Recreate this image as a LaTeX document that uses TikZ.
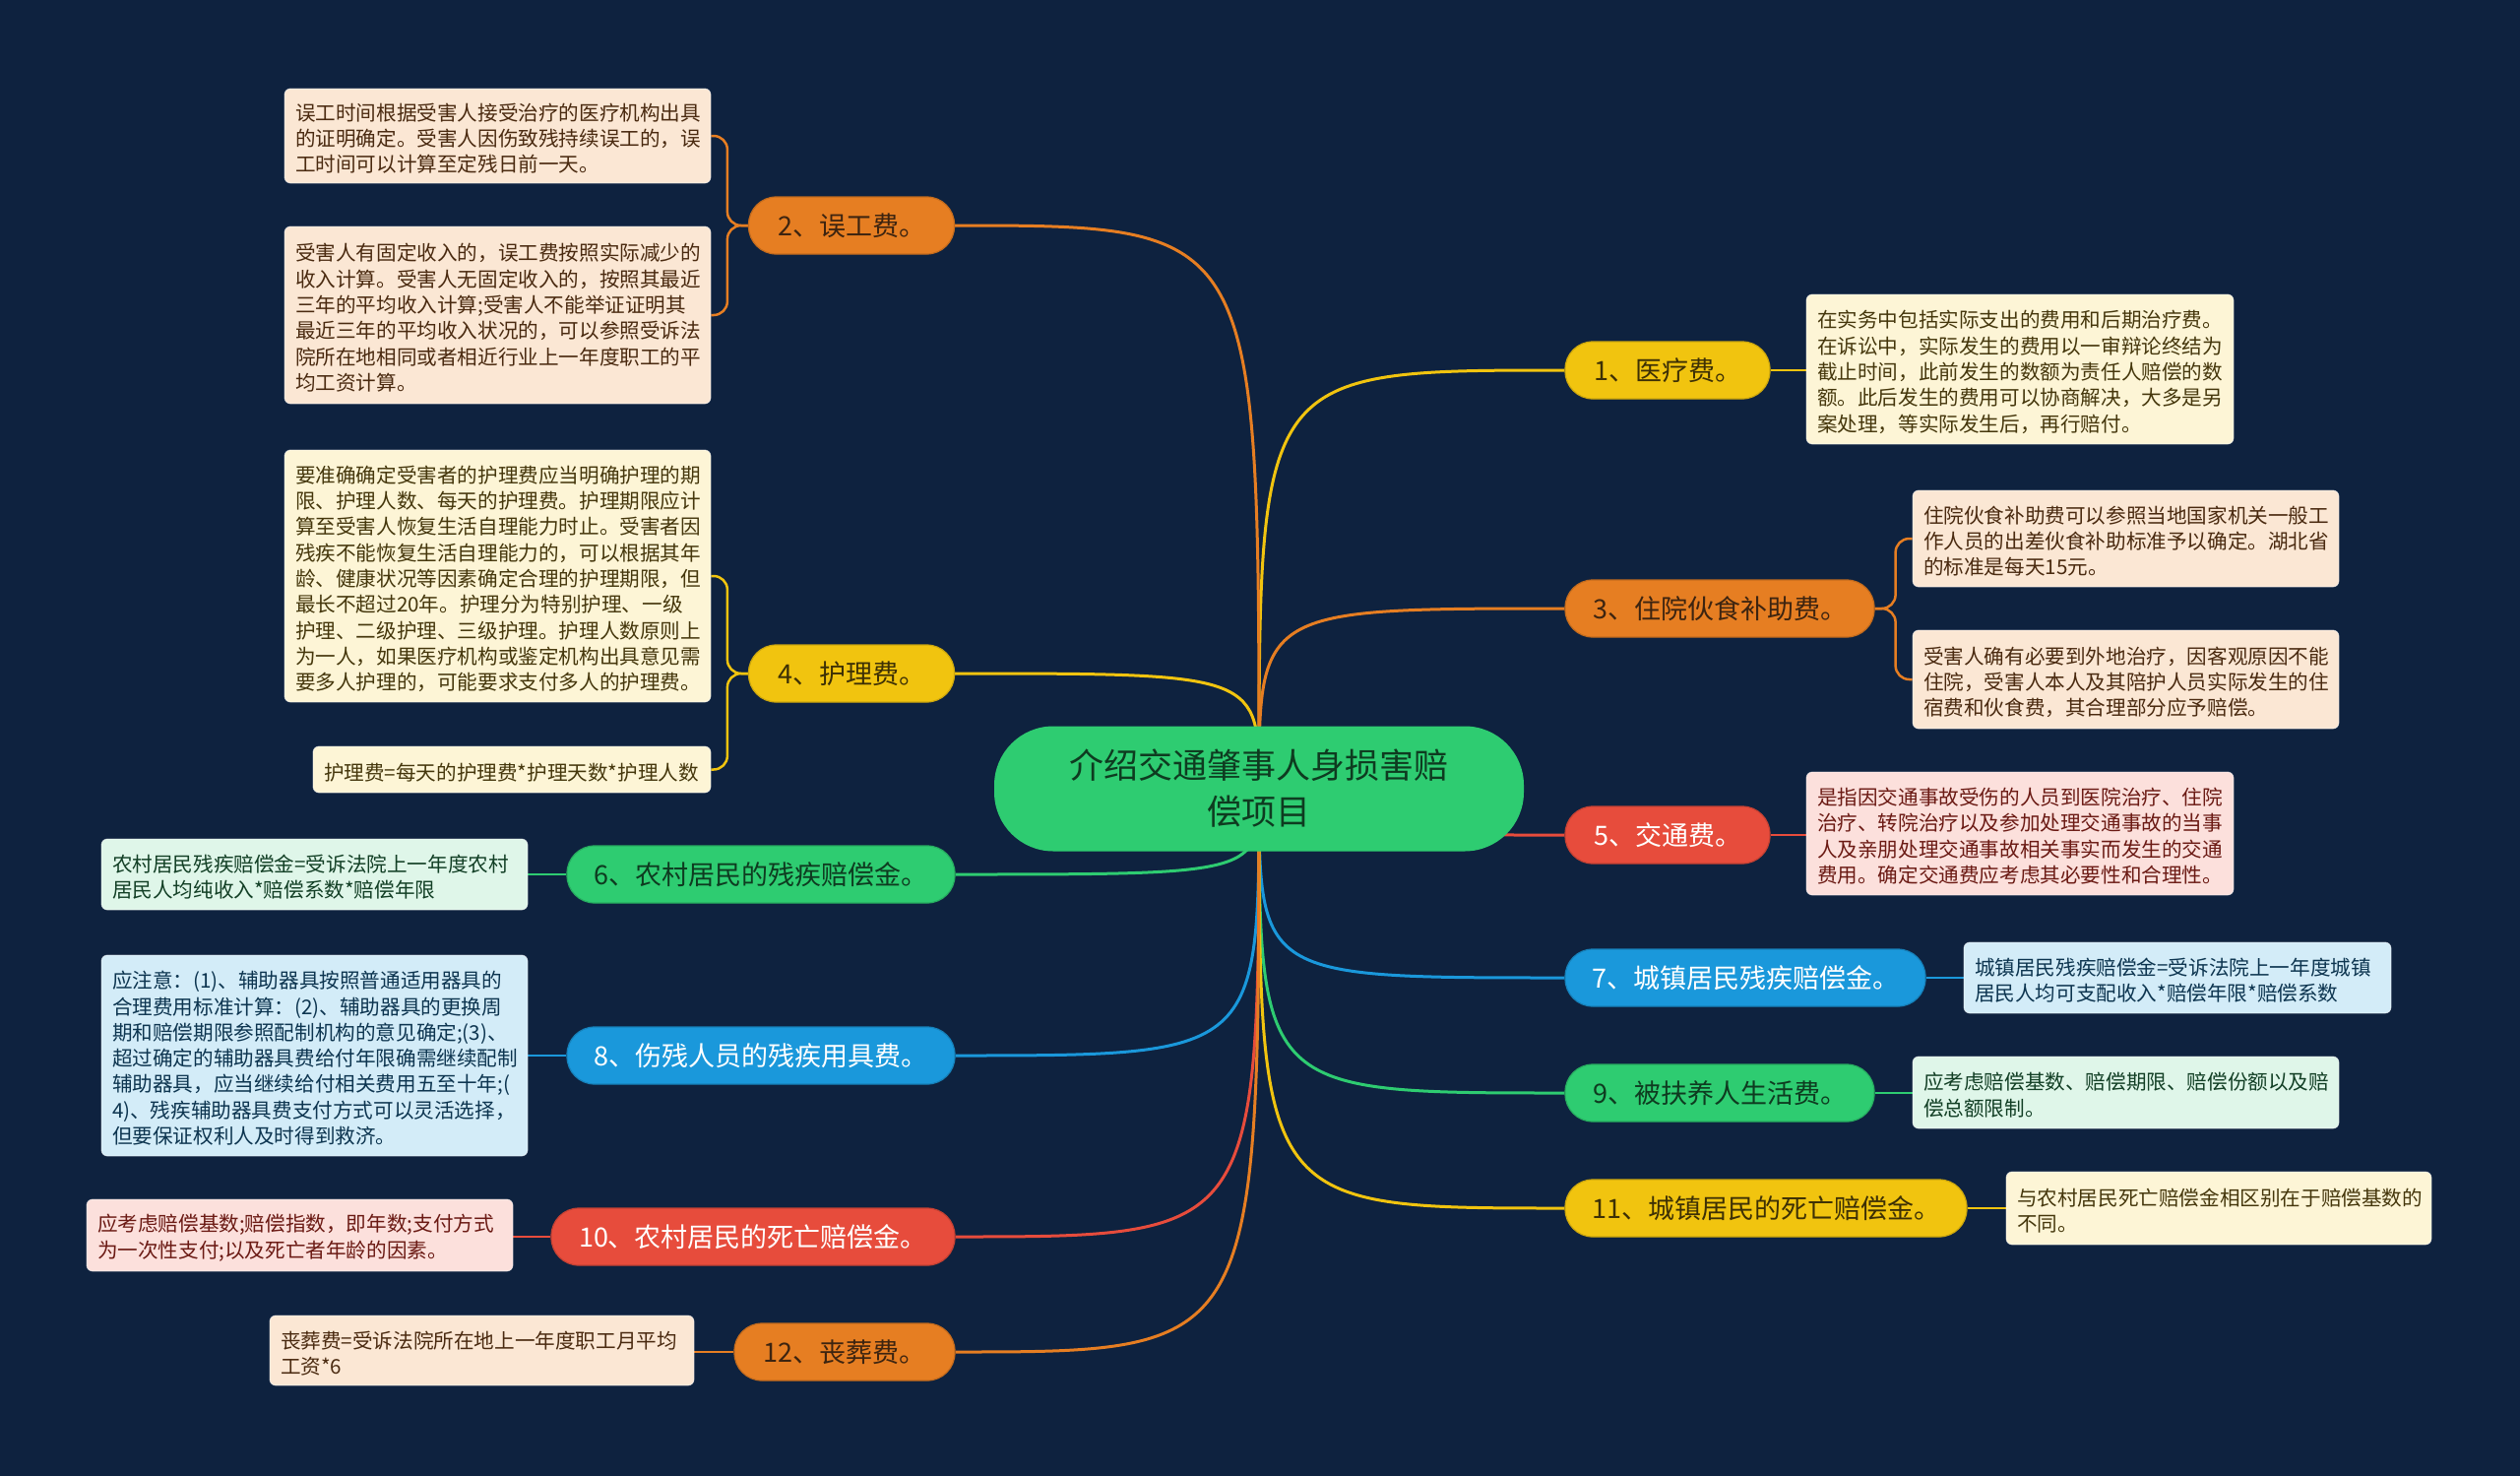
\documentclass[tikz,border=0pt]{standalone}
\usepackage{fontspec}
\setmainfont{Noto Sans CJK SC}
\usetikzlibrary{calc}
\definecolor{bg}{HTML}{0E223F}
\definecolor{cOrange}{HTML}{E67E22}
\definecolor{cYellow}{HTML}{F1C40F}
\definecolor{cGreen}{HTML}{2ECC71}
\definecolor{cBlue}{HTML}{1A98DB}
\definecolor{cRed}{HTML}{E74C3C}
\definecolor{tOrange}{HTML}{3D2410}
\definecolor{tYellow}{HTML}{3D3005}
\definecolor{tGreen}{HTML}{0E3B20}
\definecolor{lOrange}{HTML}{FBE7D4}
\definecolor{lYellow}{HTML}{FDF5D6}
\definecolor{lGreen}{HTML}{DFF6E9}
\definecolor{lBlue}{HTML}{D3ECF8}
\definecolor{lRed}{HTML}{FCE0DC}
\definecolor{ltOrange}{HTML}{4A2A10}
\definecolor{ltYellow}{HTML}{45370C}
\definecolor{ltGreen}{HTML}{123F25}
\definecolor{ltBlue}{HTML}{0D3550}
\definecolor{ltRed}{HTML}{6B1A14}
\newcommand\leaffont{\fontsize{20.6}{26.3}\selectfont}
\newcommand\branchfont{\fontsize{27}{32}\selectfont}
\newcommand\rootfont{\fontsize{35}{47}\selectfont}
\pgfdeclarelayer{bgfill}
\pgfdeclarelayer{lines}
\pgfsetlayers{bgfill,lines,main}
\begin{document}
\begin{tikzpicture}[x=1pt,y=-1pt,
  conn/.style={line width=3pt},
  lconn/.style={line width=2.5pt, rounded corners=14pt},
  branch/.style={rounded corners=28pt, minimum height=58pt, inner sep=0pt, font=\branchfont, line width=1.2pt},
  leaf/.style={rounded corners=6pt, inner xsep=11pt, inner ysep=0pt, text width=411pt, align=left, font=\leaffont, draw=white, draw opacity=0.55, line width=0.8pt, execute at begin node={\rule{0pt}{23pt}}},
  rootnode/.style={rounded corners=60pt, minimum width=538pt, minimum height=127pt, inner sep=0pt, align=center, font=\rootfont, fill=cGreen, text=tGreen}
]
\begin{pgfonlayer}{bgfill}
\fill[bg] (0,0) rectangle (2560,1499);
\end{pgfonlayer}
\useasboundingbox (0,0) rectangle (2560,1499);

% root
\node[rootnode] (C) at (1279,801) {介绍交通肇事人身损害赔\\偿项目};

% branches
\node[branch, fill=cYellow, draw=cYellow!85!black, text=tYellow, minimum width=208pt] (B1) at (1694,376) {1、医疗费。};
\node[branch, fill=cOrange, draw=cOrange!85!black, text=tOrange, minimum width=209pt] (B2) at (865,229) {2、误工费。};
\node[branch, fill=cOrange, draw=cOrange!85!black, text=tOrange, minimum width=314pt] (B3) at (1747,618) {3、住院伙食补助费。};
\node[branch, fill=cYellow, draw=cYellow!85!black, text=tYellow, minimum width=209pt] (B4) at (865,684) {4、护理费。};
\node[branch, fill=cRed, draw=cRed!85!black, text=white, minimum width=208pt] (B5) at (1694,848) {5、交通费。};
\node[branch, fill=cGreen, draw=cGreen!85!black, text=tGreen, minimum width=394pt] (B6) at (773,888) {6、农村居民的残疾赔偿金。};
\node[branch, fill=cBlue, draw=cBlue!85!black, text=white, minimum width=366pt] (B7) at (1773,993) {7、城镇居民残疾赔偿金。};
\node[branch, fill=cBlue, draw=cBlue!85!black, text=white, minimum width=394pt] (B8) at (773,1072) {8、伤残人员的残疾用具费。};
\node[branch, fill=cGreen, draw=cGreen!85!black, text=tGreen, minimum width=314pt] (B9) at (1747,1110) {9、被扶养人生活费。};
\node[branch, fill=cRed, draw=cRed!85!black, text=white, minimum width=410pt] (B10) at (765,1256) {10、农村居民的死亡赔偿金。};
\node[branch, fill=cYellow, draw=cYellow!85!black, text=tYellow, minimum width=408pt] (B11) at (1794,1227) {11、城镇居民的死亡赔偿金。};
\node[branch, fill=cOrange, draw=cOrange!85!black, text=tOrange, minimum width=224pt] (B12) at (858,1373) {12、丧葬费。};

% leaves left
\node[leaf, fill=lOrange, text=ltOrange, minimum height=96pt] (L2a) at (505.5,138) {误工时间根据受害人接受治疗的医疗机构出具\\的证明确定。受害人因伤致残持续误工的，误\\工时间可以计算至定残日前一天。};
\node[leaf, fill=lOrange, text=ltOrange, minimum height=180pt] (L2b) at (505.5,320) {受害人有固定收入的，误工费按照实际减少的\\收入计算。受害人无固定收入的，按照其最近\\三年的平均收入计算;受害人不能举证证明其\\最近三年的平均收入状况的，可以参照受诉法\\院所在地相同或者相近行业上一年度职工的平\\均工资计算。};
\node[leaf, fill=lYellow, text=ltYellow, minimum height=256pt] (L4a) at (505.5,585) {要准确确定受害者的护理费应当明确护理的期\\限、护理人数、每天的护理费。护理期限应计\\算至受害人恢复生活自理能力时止。受害者因\\残疾不能恢复生活自理能力的，可以根据其年\\龄、健康状况等因素确定合理的护理期限，但\\最长不超过20年。护理分为特别护理、一级\\护理、二级护理、三级护理。护理人数原则上\\为一人，如果医疗机构或鉴定机构出具意见需\\要多人护理的，可能要求支付多人的护理费。};
\node[leaf, fill=lYellow, text=ltYellow, minimum height=47pt, text width=382pt] (L4b) at (520,781.5) {护理费=每天的护理费*护理天数*护理人数};
\node[leaf, fill=lGreen, text=ltGreen, minimum height=72pt] (L6) at (319.5,888) {农村居民残疾赔偿金=受诉法院上一年度农村\\居民人均纯收入*赔偿系数*赔偿年限};
\node[leaf, fill=lBlue, text=ltBlue, minimum height=204pt] (L8) at (319.5,1072) {应注意：(1)、辅助器具按照普通适用器具的\\合理费用标准计算：(2)、辅助器具的更换周\\期和赔偿期限参照配制机构的意见确定;(3)、\\超过确定的辅助器具费给付年限确需继续配制\\辅助器具，应当继续给付相关费用五至十年;(\\4)、残疾辅助器具费支付方式可以灵活选择，\\但要保证权利人及时得到救济。};
\node[leaf, fill=lRed, text=ltRed, minimum height=73pt] (L10) at (304.5,1254.5) {应考虑赔偿基数;赔偿指数，即年数;支付方式\\为一次性支付;以及死亡者年龄的因素。};
\node[leaf, fill=lOrange, text=ltOrange, minimum height=71pt, text width=409pt] (L12) at (489.5,1371.5) {丧葬费=受诉法院所在地上一年度职工月平均\\工资*6};

% leaves right
\node[leaf, fill=lYellow, text=ltYellow, minimum height=152pt, text width=412pt] (R1) at (2052,375) {在实务中包括实际支出的费用和后期治疗费。\\在诉讼中，实际发生的费用以一审辩论终结为\\截止时间，此前发生的数额为责任人赔偿的数\\额。此后发生的费用可以协商解决，大多是另\\案处理，等实际发生后，再行赔付。};
\node[leaf, fill=lOrange, text=ltOrange, minimum height=98pt] (R3a) at (2159.5,547) {住院伙食补助费可以参照当地国家机关一般工\\作人员的出差伙食补助标准予以确定。湖北省\\的标准是每天15元。};
\node[leaf, fill=lOrange, text=ltOrange, minimum height=100pt] (R3b) at (2159.5,690) {受害人确有必要到外地治疗，因客观原因不能\\住院，受害人本人及其陪护人员实际发生的住\\宿费和伙食费，其合理部分应予赔偿。};
\node[leaf, fill=lRed, text=ltRed, minimum height=125pt, text width=412pt] (R5) at (2052,846.5) {是指因交通事故受伤的人员到医院治疗、住院\\治疗、转院治疗以及参加处理交通事故的当事\\人及亲朋处理交通事故相关事实而发生的交通\\费用。确定交通费应考虑其必要性和合理性。};
\node[leaf, fill=lBlue, text=ltBlue, minimum height=72pt, text width=412pt] (R7) at (2212,993) {城镇居民残疾赔偿金=受诉法院上一年度城镇\\居民人均可支配收入*赔偿年限*赔偿系数};
\node[leaf, fill=lGreen, text=ltGreen, minimum height=73pt] (R9) at (2159.5,1109.5) {应考虑赔偿基数、赔偿期限、赔偿份额以及赔\\偿总额限制。};
\node[leaf, fill=lYellow, text=ltYellow, minimum height=74pt, text width=410pt] (R11) at (2254,1227) {与农村居民死亡赔偿金相区别在于赔偿基数的\\不同。};

\begin{pgfonlayer}{lines}
% root to branches
\draw[conn, cYellow] (C.center) .. controls (C.center |- B1) .. (B1.west);
\draw[conn, cOrange] (C.center) .. controls (C.center |- B2) .. (B2.east);
\draw[conn, cOrange] (C.center) .. controls (C.center |- B3) .. (B3.west);
\draw[conn, cYellow] (C.center) .. controls (C.center |- B4) .. (B4.east);
\draw[conn, cRed] (C.center) .. controls (C.center |- B5) .. (B5.west);
\draw[conn, cGreen] (C.center) .. controls (C.center |- B6) .. (B6.east);
\draw[conn, cBlue] (C.center) .. controls (C.center |- B7) .. (B7.west);
\draw[conn, cBlue] (C.center) .. controls (C.center |- B8) .. (B8.east);
\draw[conn, cGreen] (C.center) .. controls (C.center |- B9) .. (B9.west);
\draw[conn, cRed] (C.center) .. controls (C.center |- B10) .. (B10.east);
\draw[conn, cYellow] (C.center) .. controls (C.center |- B11) .. (B11.west);
\draw[conn, cOrange] (C.center) .. controls (C.center |- B12) .. (B12.east);
% branches to leaves
\draw[lconn, cOrange] (B2.west) -- ++(-21,0) |- (L2a.east);
\draw[lconn, cOrange] (B2.west) -- ++(-21,0) |- (L2b.east);
\draw[lconn, cYellow] (B4.west) -- ++(-21,0) |- (L4a.east);
\draw[lconn, cYellow] (B4.west) -- ++(-21,0) |- (L4b.east);
\draw[lconn, cGreen] (B6.west) -- (B6.west -| L6.east);
\draw[lconn, cBlue] (B8.west) -- (B8.west -| L8.east);
\draw[lconn, cRed] (B10.west) -- (B10.west -| L10.east);
\draw[lconn, cOrange] (B12.west) -- (B12.west -| L12.east);
\draw[lconn, cYellow] (B1.east) -- (B1.east -| R1.west);
\draw[lconn, cOrange] (B3.east) -- ++(21,0) |- (R3a.west);
\draw[lconn, cOrange] (B3.east) -- ++(21,0) |- (R3b.west);
\draw[lconn, cRed] (B5.east) -- (B5.east -| R5.west);
\draw[lconn, cBlue] (B7.east) -- (B7.east -| R7.west);
\draw[lconn, cGreen] (B9.east) -- (B9.east -| R9.west);
\draw[lconn, cYellow] (B11.east) -- (B11.east -| R11.west);
\end{pgfonlayer}
\end{tikzpicture}
\end{document}
